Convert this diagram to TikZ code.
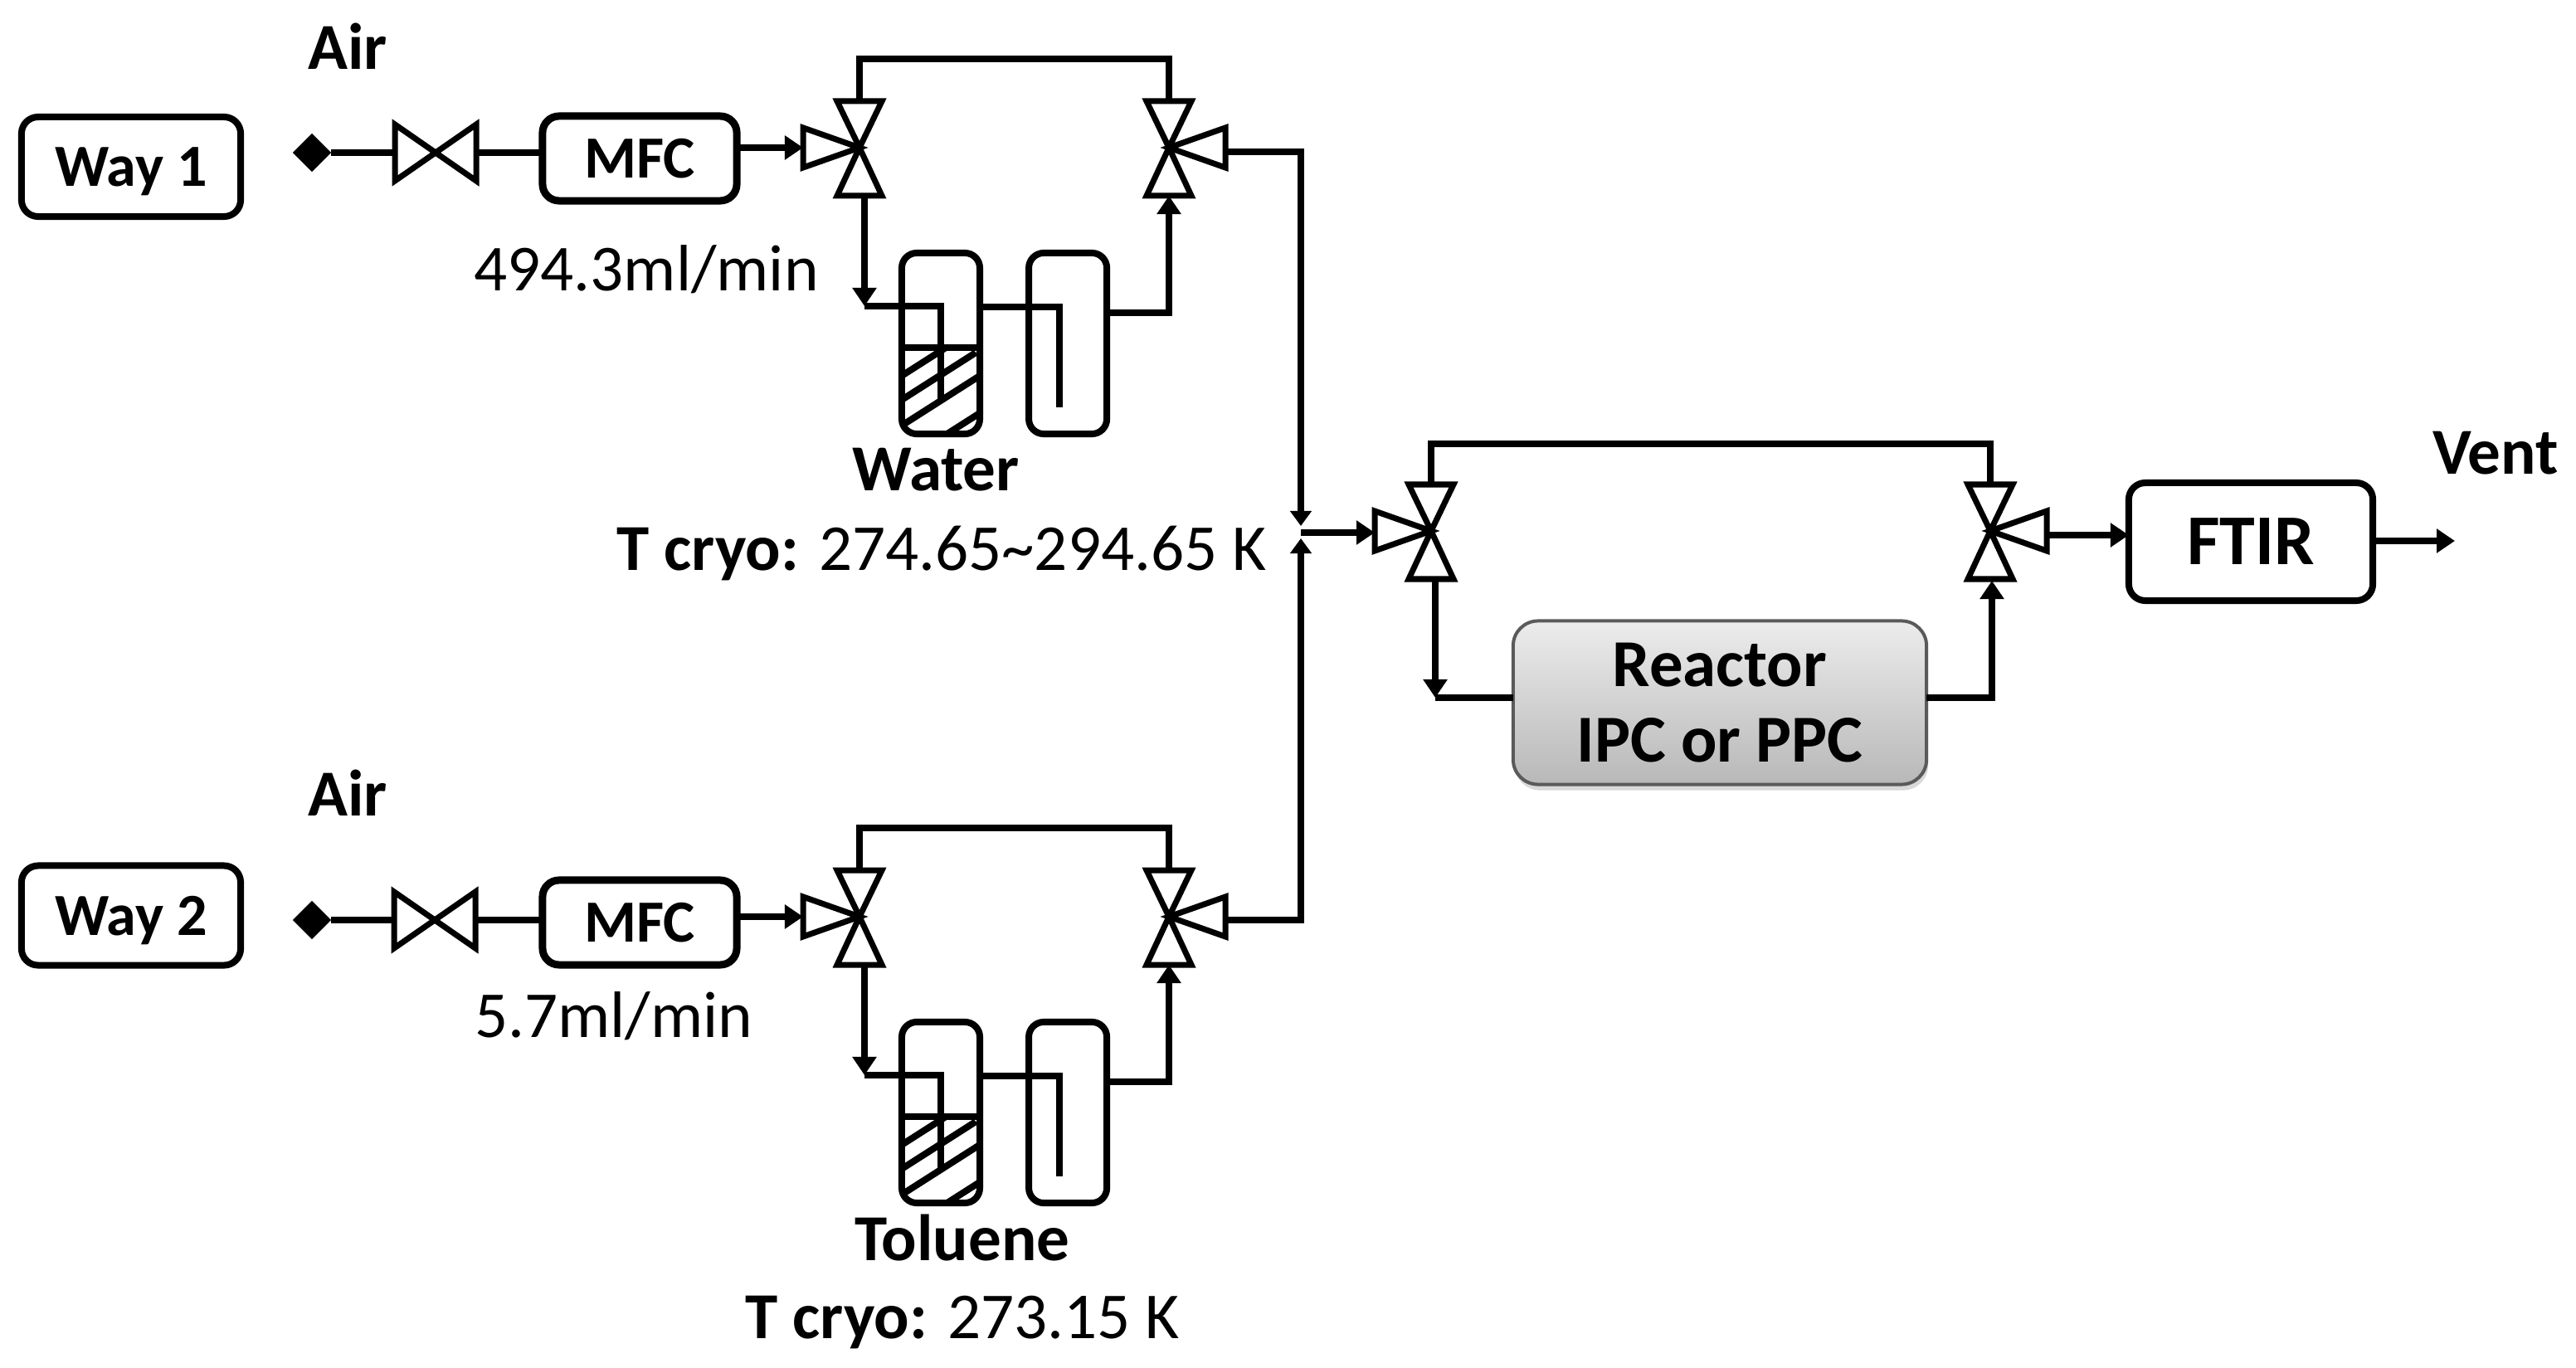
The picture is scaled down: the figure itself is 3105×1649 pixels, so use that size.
\documentclass[tikz,border=0pt]{standalone}
\usepackage{fontspec}
\setmainfont{Carlito}
\usetikzlibrary{positioning,calc,arrows.meta,shapes.geometric,shadows}
\definecolor{reactortop}{RGB}{236,236,236}
\definecolor{reactorbot}{RGB}{184,184,184}
\definecolor{reactoredge}{RGB}{90,90,90}
\tikzset{
  flowpic/.style={
    x=.01cm,y=-.01cm
    ,inner sep=0pt
    ,outer sep=0pt
  }
  ,pipe/.style={line width=.08cm,draw=black}
  ,flow/.style={pipe,-{Triangle[width=.28cm,length=.22cm]}}
  ,mixflow/.style={pipe,-{Triangle[width=.25cm,length=.18cm]}}
  ,valve/.style={line width=.07cm,draw=black,fill=white}
  ,source/.style={diamond,fill=black,minimum size=.46cm}
  ,boldlbl/.style={anchor=base,font=\fontsize{22.5}{26}\selectfont\bfseries}
  ,plainlbl/.style={anchor=base,font=\fontsize{22.5}{26}\selectfont}
  ,bounder/.style={rounded corners=.2cm,line width=.08cm,draw=black,fill=white,align=center}
  ,wayname/.style={bounder,minimum width=2.64cm,minimum height=1.2cm,text depth=0pt
    ,font=\fontsize{20.5}{22}\selectfont\bfseries}
  ,mfcbox/.style={wayname,minimum width=2.34cm,minimum height=1.02cm,line width=.09cm}
  ,ftirbox/.style={wayname,minimum width=2.94cm,minimum height=1.42cm
    ,font=\fontsize{24.5}{28}\selectfont\bfseries}
  ,reactorbox/.style={rounded corners=.3cm,line width=.04cm,draw=reactoredge
    ,top color=reactortop,bottom color=reactorbot
    ,minimum width=4.98cm,minimum height=1.97cm,align=center
    ,drop shadow={shadow xshift=.02cm,shadow yshift=-.07cm,opacity=.3}
    ,font=\fontsize{23}{26}\selectfont\bfseries}
  ,trapbox/.style={rounded corners=.18cm,line width=.08cm,draw=black,fill=white
    ,minimum width=.94cm,minimum height=2.18cm}
  ,bubblerbox/.style={trapbox
    ,path picture={
      \draw[line width=.08cm] ([shift={(0,114)}]path picture bounding box.north west)
        -- ([shift={(0,114)}]path picture bounding box.north east);
      \clip ([shift={(0,114)}]path picture bounding box.north west)
        rectangle (path picture bounding box.south east);
      \foreach \d in {148,177,208,253}
        \draw[line width=.08cm] ([shift={(0,\d)}]path picture bounding box.north west)
          -- ++(94,-60);
    }}
}
\newcommand\twoway[2]{
  \coordinate (#1) at (#2);
  \draw[valve] (#1) -- ++(-49,-34) -- ++(0,68) -- cycle;
  \draw[valve] (#1) -- ++(49,-34) -- ++(0,68) -- cycle;
  \path (#1) ++(-49,0) coordinate (#1-w) ++(98,0) coordinate (#1-e);
}
\newcommand\threeway[3]{
  \coordinate (#1) at (#2);
  \draw[valve] (#1) -- ++(-27,-56) -- ++(54,0) -- cycle;
  \draw[valve] (#1) -- ++(-27,58) -- ++(54,0) -- cycle;
  \draw[valve] (#1) -- ++(#3*-68,-24) -- ++(0,48) -- cycle;
  \path (#1) ++(0,-56) coordinate (#1-t) ++(0,114) coordinate (#1-b)
    (#1) ++(#3*-68,0) coordinate (#1-s);
}
\begin{document}
\begin{tikzpicture}[flowpic]
  \useasboundingbox (0,0) rectangle (3105,1649);
  % init feed lines
  \node[wayname] (way1) at (158,201) {Way 1};
  \node[wayname,below=7.82cm of way1] (way2) {Way 2};
  \node[mfcbox] (mfc1) at (771,191) {MFC};
  \node[mfcbox] (mfc2) at (771,1112) {MFC};
  \node[source] (src1) at (376,184) {};
  \node[source] (src2) at (376,1109) {};
  \node[boldlbl] (air1) at (419,84) {Air};
  \node[boldlbl] (air2) at (419,983) {Air};
  \node[plainlbl] (rate1) at (779,351) {494.3ml/min};
  \node[plainlbl] (rate2) at (740,1250) {5.7ml/min};
  \twoway{cut1}{525,184}
  \twoway{cut2}{524,1109}
  \foreach \n in {1,2} {
    \draw[pipe] (src\n) -- (cut\n-w);
    \draw[pipe] (cut\n-e) -- (cut\n-e -| mfc\n.west);
  }
  % saturator trains
  \foreach \n/\dy in {1/0,2/927} {
    \threeway{vin\n}{1036,178+\dy}{1}
    \threeway{vout\n}{1409,178+\dy}{-1}
    \draw[pipe] (vin\n-t) -- ++(0,-51) -| (vout\n-t);
    \draw[flow] (vin\n-s -| mfc\n.east) -- (vin\n-s);
    \node[bubblerbox] (bub\n) at (1134,414+\dy) {};
    \node[trapbox,right=.59cm of bub\n] (trap\n) {};
    \coordinate (drop\n) at (1042,237+\dy);
    \coordinate (dip\n) at (1042,369+\dy);
    \coordinate (dipend\n) at (1134,482+\dy);
    \coordinate (link\n) at (1181,370+\dy);
    \coordinate (linkend\n) at (1277,491+\dy);
    \coordinate (trapout\n) at (1335,377+\dy);
    \draw[flow] (drop\n) -- (dip\n);
    \draw[pipe] (dip\n) -| (dipend\n);
    \draw[pipe] (link\n) -| (linkend\n);
    \draw[flow] (trapout\n) -| (vout\n-b);
  }
  \node[boldlbl] (water) at (1128,591) {Water};
  \node[plainlbl] (cryo1) at (1135,687) {\textbf{T cryo:} 274.65\textasciitilde294.65 K};
  \node[boldlbl] (toluene) at (1160,1519) {Toluene};
  \node[plainlbl] (cryo2) at (1160,1613) {\textbf{T cryo:} 273.15 K};
  % reactor side
  \threeway{vrin}{1725,640}{1}
  \threeway{vrout}{2399,640}{-1}
  \draw[pipe] (vrin-t) -- ++(0,-49) -| (vrout-t);
  \node[reactorbox] (reactor) at (2073,847) {Reactor\\IPC or PPC};
  \node[ftirbox] (ftir) at (2713,653) {FTIR};
  \node[boldlbl] (vent) at (3008,571) {Vent};
  \coordinate (mixtop) at (1568,634);
  \coordinate (mixbot) at (1568,649);
  \coordinate (mix) at (1568,642);
  \coordinate (out1) at (1476,183);
  \coordinate (out2) at (1476,1109);
  \draw[mixflow] (out1) -| (mixtop);
  \draw[mixflow] (out2) -| (mixbot);
  \draw[flow] (mix) -- (vrin-s |- mix);
  \coordinate (vrdrop) at (1730,700);
  \coordinate (vrcorner) at (1730,841);
  \coordinate (vrup) at (2401,841);
  \coordinate (vrtop) at (2401,700);
  \draw[flow] (vrdrop) -- (vrcorner);
  \draw[pipe] (vrcorner) -- (reactor.west |- vrcorner);
  \draw[flow] (reactor.east |- vrup) -| (vrtop);
  \coordinate (ftirin) at (2464,645);
  \coordinate (ventout) at (2959,652);
  \draw[flow] (ftirin) -- (ftirin -| ftir.west);
  \draw[flow] (ftir.east |- ventout) -- (ventout);
\end{tikzpicture}
\end{document}
